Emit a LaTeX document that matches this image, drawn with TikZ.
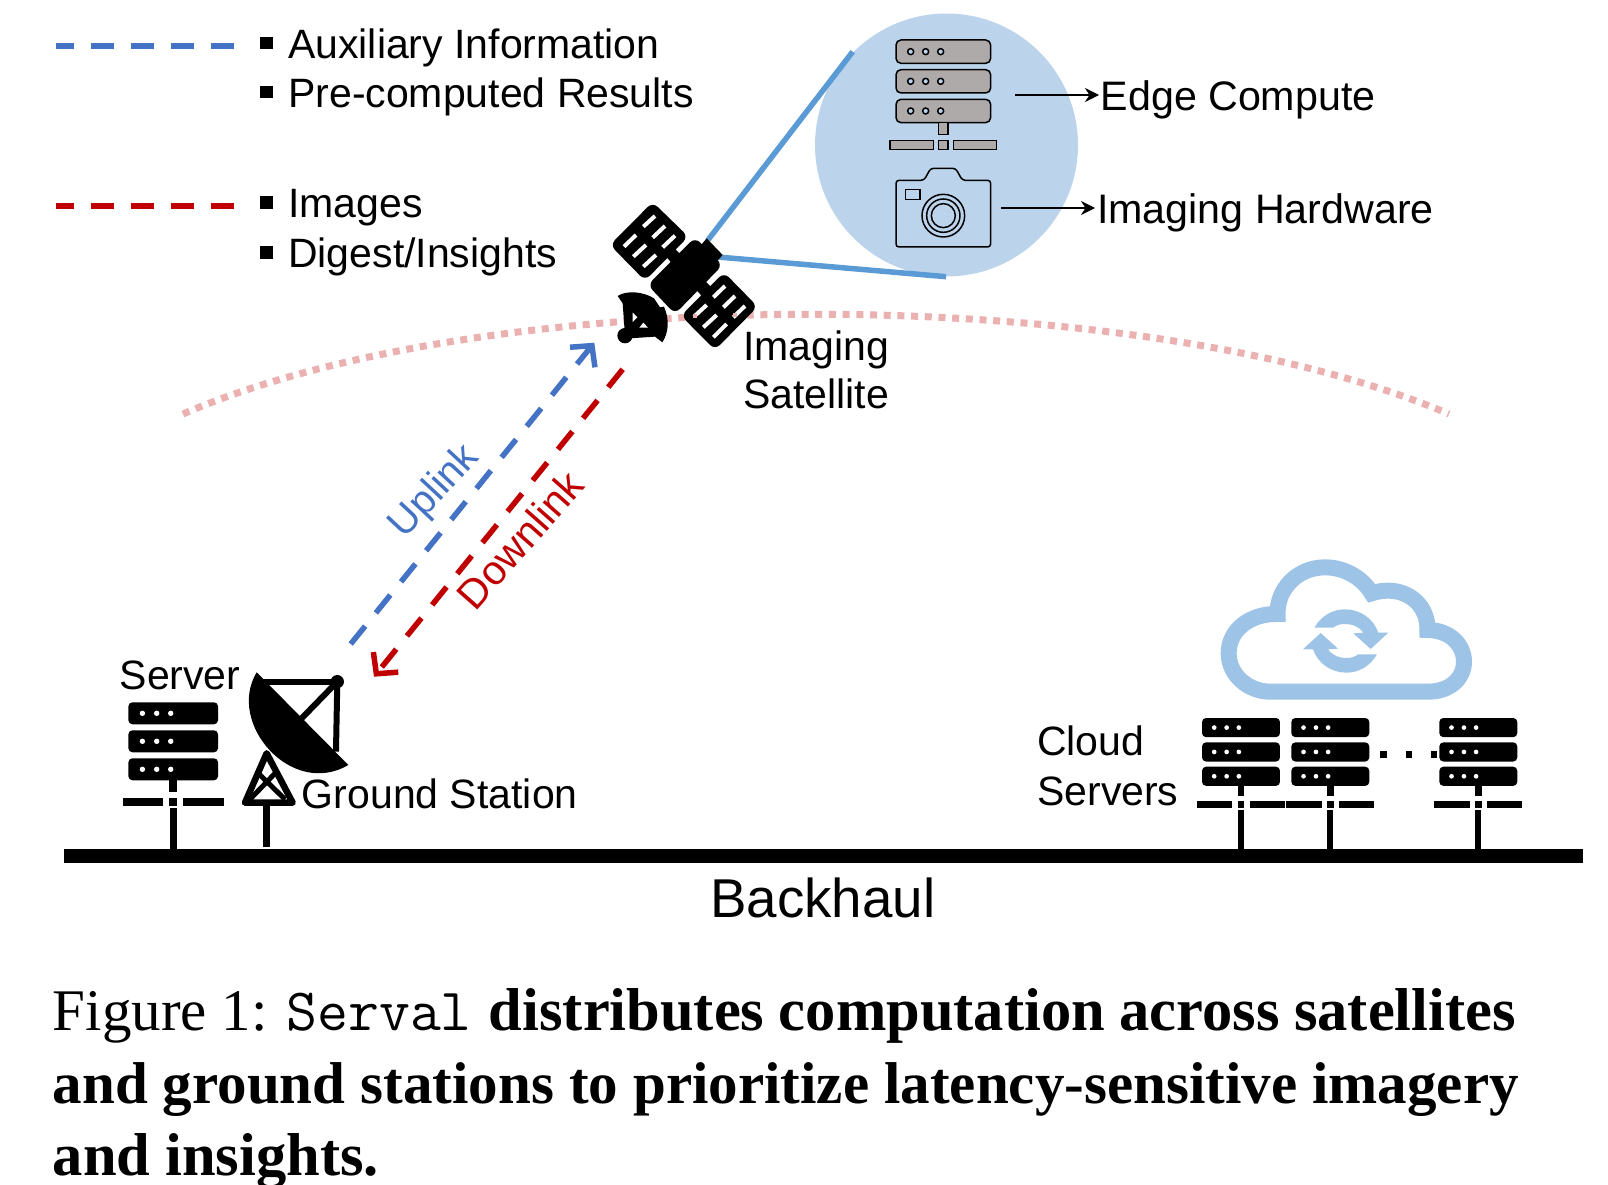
\documentclass[tikz,border=0pt]{standalone}
\usepackage{fontspec}
\setmainfont{Liberation Sans}
\newfontfamily\capfont{Liberation Serif}
\usetikzlibrary{arrows.meta}
\definecolor{upblue}{HTML}{4472C4}
\definecolor{downred}{HTML}{C00000}
\definecolor{lens}{HTML}{BBD4EC}
\definecolor{lensline}{HTML}{5B9BD5}
\definecolor{hwgray}{HTML}{AEAAAA}
\definecolor{orbit}{HTML}{EBB0B0}
\definecolor{cloudblue}{HTML}{9DC3E6}
\newcommand\fsz[1]{\fontsize{#1}{#1}\selectfont}
\newcommand\srvicon[3]{%
\begin{scope}[shift={(#1,#2)},x=#3pt,y=-#3pt]
 \foreach \t in {0,28,56}{
  \fill[black,rounded corners=4pt] (-44.8,\t) rectangle (44.8,\t+22);
  \foreach \d in {-30.8,-16.5,-2.5}{\fill[white] (\d,\t+11) circle[radius=2.7];}
 }
 \fill (-4,78) rectangle (4,89.3);
 \fill (-50.5,95.3) rectangle (-10,103.3);
 \fill (-4,95.3) rectangle (4,103.3);
 \fill (10,95.3) rectangle (50.5,103.3);
 \fill (-3.3,105.3) rectangle (3.3,153);
\end{scope}}
\tikzset{
 lab/.style={anchor=base west,inner sep=0pt,font=\fsz{41}},
 capline/.style={anchor=base west,inner sep=0pt,font=\capfont\fsz{59}},
 legdash/.style={line width=6pt,dash pattern=on 23pt off 17pt,dash phase=5pt},
 link/.style={line width=5.5pt,dash pattern=on 23pt off 17pt},
 bul/.style={fill=black},
 lensedge/.style={lensline,line width=5.5pt},
 call/.style={line width=2.5pt,-{Stealth[length=14pt,width=14pt]}},
 hw/.style={fill=hwgray,draw=black,line width=1.5pt},
 cam/.style={draw=black,line width=1.5pt},
 slot/.style={white,line width=4pt},
 thickblk/.style={black,line width=6pt}
}
\begin{document}
\begin{tikzpicture}[x=1pt,y=-1pt]
\useasboundingbox (0,0) rectangle (1608,1185);
% orbit
\coordinate (orbL) at (183,414);
\coordinate (orbR) at (1449,414);
\draw[orbit,line width=7pt,dash pattern=on 7pt off 6.7pt] (orbL) .. controls (490,281) and (1136,281) .. (orbR);
% zoom circle
\fill[lens] (946.5,145) circle[radius=131.5];
\draw[lensedge] (852.7,51.7) -- (708,240);
\draw[lensedge] (718,257) -- (946,276.7);
% gray server & camera
\begin{scope}[shift={(780,0)},x=.3333pt,y=-.3333pt]
 \foreach \t in {120,209,298}{
  \draw[hw,rounded corners=5pt] (348,\t) rectangle (632,\t+70);
  \foreach \d in {392,437,482}{\draw[fill=lens,draw=black,line width=1.5pt] (\d,\t+35) circle[radius=9];}
 }
 \draw[hw] (476,368) rectangle (504,404);
 \draw[hw] (330,421) rectangle (460,449);
 \draw[hw] (476,421) rectangle (504,449);
 \draw[hw] (520,421) rectangle (650,449);
 \draw[cam,rounded corners=3pt] (348,541) -- (432,541) -- (452,505) -- (527,505) -- (547,541) -- (632,541) -- (632,741) -- (348,741) -- cycle;
 \draw[cam] (376,568) rectangle (420,598);
 \draw[cam] (490,647) circle[radius=64];
 \draw[cam] (490,647) circle[radius=50];
 \draw[cam] (490,647) circle[radius=36];
\end{scope}
\coordinate (edgeA) at (1015,95); \coordinate (edgeB) at (1099,95);
\coordinate (imgA) at (1001,208); \coordinate (imgB) at (1095,208);
\draw[call] (edgeA) -- (edgeB);
\draw[call] (imgA) -- (imgB);
\node[lab,font=\fsz{41.2}] (edge) at (1100.5,110.5) {Edge Compute};
\node[lab,font=\fsz{41.2}] (imghw) at (1097,223) {Imaging Hardware};
% satellite
\begin{scope}[shift={(580,190)},x=.3333pt,y=-.3333pt]
 \fill[black] (240,180) -- (270,160) -- (420,320) -- (390,345) -- cycle;
 \fill[black,rounded corners=7pt] (218,36) -- (325,140) -- (195,272) -- (90,165) -- cycle;
 \fill[black,rounded corners=7pt] (432,247) -- (533,350) -- (405,480) -- (303,377) -- cycle;
 \fill[black,rounded corners=7pt] (345,142) -- (428,225) -- (285,372) -- (203,285) -- cycle;
 \fill[black] (380,145) -- (428,195) -- (400,225) -- (355,175) -- cycle;
 \draw[slot] (190,110)--(225,78) (218,143)--(255,108) (248,172)--(285,137)
  (132,170)--(168,135) (160,200)--(198,165) (190,230)--(228,195);
 \draw[slot] (400,322)--(435,288) (430,352)--(465,318) (460,382)--(495,348)
  (342,380)--(380,345) (370,412)--(410,375) (400,442)--(440,402);
 \draw[orbit,line width=4pt] (340,378)--(352,378) (459,375)--(471,375);
 % dish
 \fill[black] (113,318) .. controls (140,300) and (190,305) .. (222,325) -- (240,352) -- (252,350)
   .. controls (270,390) and (265,430) .. (247,457) -- (225,440) -- (150,445) -- (135,437) -- (128,340) -- cycle;
 \fill[black] (135,437) circle[radius=23];
 \fill[white] (158,368) -- (172,382) -- (158,396) -- cycle;
 \fill[white] (178,413) -- (190,398) -- (204,413) -- cycle;
\end{scope}
\node[lab] (imgsat1) at (743,360) {Imaging};
\node[lab] (imgsat2) at (743,408.5) {Satellite};
% legend
\coordinate (lb1) at (55.6,45.7); \coordinate (lb2) at (233.8,45.7);
\coordinate (lr1) at (55.6,205.7); \coordinate (lr2) at (233.8,205.7);
\draw[upblue,legdash] (lb1) -- (lb2);
\draw[downred,legdash] (lr1) -- (lr2);
\fill[bul] (260.3,36.7) rectangle (273.3,49.3);
\fill[bul] (260.3,86) rectangle (273.3,98.3);
\fill[bul] (260.3,196) rectangle (273.3,209);
\fill[bul] (260.3,246) rectangle (273.3,258.5);
\node[lab] (aux) at (288,58.3) {Auxiliary Information};
\node[lab] (pre) at (288,107.7) {Pre-computed Results};
\node[lab] (ims) at (288,217.3) {Images};
\node[lab] (dig) at (288,267.7) {Digest/Insights};
% links
\coordinate (upA) at (350.7,644); \coordinate (upB) at (594.3,342.7);
\coordinate (dnA) at (622.7,369.3); \coordinate (dnB) at (374,676.7);
\draw[upblue,link,-{Straight Barb[length=15pt,width=32pt,line width=5.5pt]}] (upA) -- (upB);
\draw[downred,link,-{Straight Barb[length=15pt,width=32pt,line width=5.5pt]}] (dnA) -- (dnB);
\node[upblue,inner sep=0pt,rotate=47,font=\fsz{40}] (uplink) at (435,492) {Uplink};
\node[downred,inner sep=0pt,rotate=48.5,font=\fsz{41}] (downlink) at (520,540) {Downlink};
% ground
\node[lab] (server) at (119.5,689) {Server};
\srvicon{173.2}{702.3}{1}
\begin{scope}[shift={(100,640)},x=.3333pt,y=-.3333pt]
 \draw[black,line width=6.5pt,line join=round] (500,340) -- (435,488) -- (578,488) -- cycle;
 \draw[black,line width=5pt] (450,478) -- (530,395) (470,395) -- (555,478);
 \fill[black] (490,490) rectangle (510,622);
 \fill[black] (470,97) .. controls (378,250) and (575,475) .. (745,375) -- cycle;
 \draw[thickblk] (490,127) -- (712,127);
 \draw[thickblk] (712,125) -- (708,335);
 \draw[thickblk] (712,125) -- (605,235);
 \fill[black] (712,125) circle[radius=20];
\end{scope}
\node[lab] (gs) at (301.7,808.7) {Ground Station};
% cloud
\begin{scope}[shift={(1180,550)},x=.3333pt,y=-.3333pt]
 \draw[cloudblue,line width=16pt,line join=miter]
  (270,425) -- (745,425) .. controls (810,425) and (852,385) .. (852,335)
  .. controls (852,285) and (810,240) .. (742,240)
  .. controls (745,170) and (690,122) .. (625,122)
  .. controls (605,122) and (590,125) .. (575,130)
  .. controls (545,80) and (490,52) .. (435,52)
  .. controls (350,52) and (290,120) .. (293,192)
  .. controls (210,190) and (146,240) .. (146,310)
  .. controls (146,375) and (205,425) .. (270,425) -- cycle;
 \fill[cloudblue] (403,233) .. controls (425,195) and (460,178) .. (495,178)
  .. controls (540,178) and (580,205) .. (595,248) -- (625,248) -- (572,297) -- (520,250) -- (550,248)
  .. controls (535,228) and (515,222) .. (495,222) .. controls (480,222) and (470,225) .. (460,233) -- cycle;
 \fill[cloudblue] (591,313) .. controls (569,351) and (534,368) .. (499,368)
  .. controls (454,368) and (414,341) .. (399,298) -- (369,298) -- (422,249) -- (474,296) -- (444,298)
  .. controls (459,318) and (479,324) .. (499,324) .. controls (514,324) and (524,321) .. (534,313) -- cycle;
\end{scope}
\srvicon{1241}{718}{.87}
\srvicon{1330.3}{718}{.87}
\srvicon{1478.3}{718}{.87}
\fill (1380.3,751) rectangle (1386.7,757.7);
\fill (1405.7,751) rectangle (1412,757.7);
\fill (1430.7,751) rectangle (1437,757.7);
\node[lab] (cloud1) at (1037,755.5) {Cloud};
\node[lab] (cloud2) at (1037,805) {Servers};
% backhaul
\fill (64,849.3) rectangle (1583,862.7);
\node[lab,font=\fsz{54.7}] (backhaul) at (710,917) {Backhaul};
% caption
\node[capline] (cap1) at (52.6,1030) {\hbox{Figure 1:\hspace{19pt}{\fontsize{60}{60}\ttfamily Serval}\hspace{17pt}\hbox to 1027pt{\fsz{60.5}\textbf{distributes computation across satellites}}}};
\node[capline] (cap2) at (52.6,1103.3) {\hbox to 1466pt{\textbf{and ground stations to prioritize latency-sensitive imagery}}};
\node[capline,font=\capfont\fsz{60.5}] (cap3) at (52.6,1175) {\textbf{and insights.}};
\end{tikzpicture}
\end{document}
